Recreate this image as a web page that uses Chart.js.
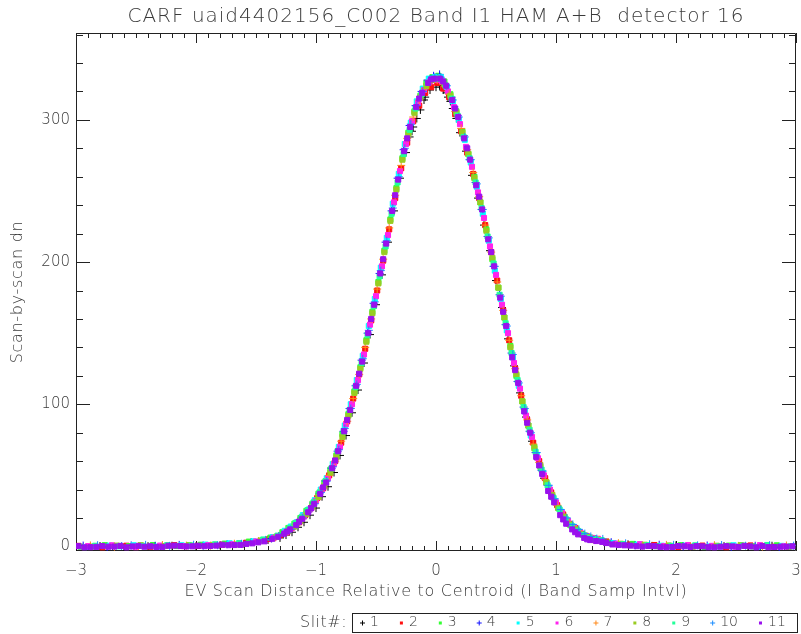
<!DOCTYPE html>
<html>
<head>
<meta charset="utf-8">
<title>CARF detector 16</title>
<script src="https://cdn.jsdelivr.net/npm/chart.js@4/dist/chart.umd.min.js"></script>
<style>
  html, body { margin: 0; padding: 0; background: #fff; }
  canvas { display: block; }
</style>
</head>
<body>
<canvas id="grafica" width="801" height="634"></canvas>
<script>
const titulo = 'CARF uaid4402156_C002 Band I1 HAM A+B  detector 16';
const tituloX = 'EV Scan Distance Relative to Centroid (I Band Samp Intvl)';
const tituloY = 'Scan-by-scan dn';
const xTicks = [-3, -2, -1, 0, 1, 2, 3];
const yTicks = [0, 100, 200, 300];
const slitLabels = ['1', '2', '3', '4', '5', '6', '7', '8', '9', '10', '11'];

// puntos [x, dn] de cada slit
const slit1 = [
  [-3.0,-0.5],[-2.8,0.3],[-2.6,-0.8],[-2.4,0.2],[-2.2,0.5],[-2.0,0.1],[-1.8,0.8],[-1.6,1.8],[-1.4,4.5],
  [-1.3,6],[-1.2,10],[-1.1,17],[-1.0,27],[-0.9,42],[-0.8,64],[-0.7,94],[-0.6,129],[-0.5,170],[-0.4,214],
  [-0.3,259],[-0.22,288],[-0.2,292],[-0.19,295],[-0.16,301],[-0.13,307],[-0.1,314],[-0.09,316],[-0.05,321],
  [0,323],[0.03,324],[0.06,321],[0.09,319],[0.1,316],[0.12,313],[0.14,308],[0.17,301],[0.2,291],[0.3,261],
  [0.4,226],[0.5,187],[0.6,146],[0.7,108],[0.8,74],[0.9,48],[1.0,30],[1.1,17],[1.2,10],[1.3,5.5],
  [-1.25,8],[-1.15,13.5],[-1.05,22],[-0.95,35],[-0.85,52],[-0.75,78],[-0.65,110],[-0.55,149],[-0.45,191],
  [-0.35,236],[-0.25,277],[0.25,278],[0.35,245],[0.45,208],[0.55,168],[0.65,127],[0.75,91],[0.85,61],
  [0.95,39],[1.05,23],[1.15,13],[1.25,7],
  [1.4,3.2],[1.6,1.5],[1.8,0.4],[2.0,0.8],[2.2,-0.6],[2.4,0.2],[2.6,-0.4],[2.8,0.5]
];
const slit2 = [
  [-2.98,0.4],[-2.78,-0.6],[-2.58,0.5],[-2.38,-0.2],[-2.18,0.9],[-1.98,0.4],[-1.78,1.3],[-1.58,2.6],[-1.39,5.2],
  [-1.29,8],[-1.19,14],[-1.09,22],[-0.99,34],[-0.89,50],[-0.79,73],[-0.69,104],[-0.59,139],[-0.49,180],[-0.39,223],
  [-0.29,266],[-0.19,299],[-0.09,319],[0.01,326],[0.11,316],[0.21,292],[0.31,262],[0.41,226],[0.51,187],[0.61,145],
  [0.71,106],[0.81,73],[0.91,48],[1.01,29],[1.11,16],[1.21,9],[1.31,5.2],
  [-1.24,10],[-1.14,17],[-1.04,27],[-0.94,41],[-0.84,60],[-0.74,88],[-0.64,121],[-0.54,159],[-0.44,201],
  [-0.34,245],[-0.24,284],[-0.14,310],[-0.04,323],[0.06,322],[0.16,304],[0.26,277],[0.36,245],[0.46,207],
  [0.56,166],[0.66,125],[0.76,89],[0.86,60],[0.96,38],[1.06,22.5],[1.16,13],[1.26,7],
  [1.42,3.5],[1.62,1.4],[1.82,1.0],[2.02,-0.3],[2.22,0.6],[2.42,-0.5],[2.62,0.7],[2.82,-0.2]
];
const slit3 = [
  [-2.96,-0.2],[-2.76,0.9],[-2.56,0.2],[-2.36,1.0],[-2.16,0.3],[-1.96,1.2],[-1.76,2.0],[-1.56,3.4],[-1.38,6.2],
  [-1.28,10],[-1.18,16],[-1.08,25],[-0.98,37],[-0.88,54],[-0.78,79],[-0.68,109],[-0.58,145],[-0.48,186],[-0.38,230],
  [-0.28,273],[-0.18,306],[-0.08,326],[0.02,331],[0.12,318],[0.22,292],[0.32,260],[0.42,223],[0.52,182],[0.62,141],
  [0.72,102],[0.82,70],[0.92,45],[1.02,27],[1.12,15],[1.22,8.5],[1.32,5.6],
  [-1.23,13],[-1.13,20],[-1.03,30],[-0.93,45],[-0.83,64],[-0.73,93],[-0.63,126],[-0.53,165],[-0.43,208],
  [-0.33,252],[-0.23,291],[-0.13,317],[-0.03,330],[0.07,327],[0.17,306],[0.27,276],[0.37,242],[0.47,202],
  [0.57,161],[0.67,120],[0.77,85],[0.87,56],[0.97,35],[1.07,20.5],[1.17,11.5],[1.27,6.5],
  [1.44,2.6],[1.64,1.8],[1.84,0.2],[2.04,0.9],[2.24,-0.4],[2.44,0.6],[2.64,0.0],[2.84,0.8]
];
const slit4 = [
  [-2.94,0.6],[-2.74,-0.3],[-2.54,0.7],[-2.34,0.5],[-2.14,1.1],[-1.94,0.6],[-1.74,1.6],[-1.54,3.1],[-1.37,5.6],
  [-1.27,9],[-1.17,15],[-1.07,24],[-0.97,37],[-0.87,55],[-0.77,81],[-0.67,113],[-0.57,150],[-0.47,192],[-0.37,236],
  [-0.27,279],[-0.17,310],[-0.07,328],[0.03,332],[0.13,316],[0.23,289],[0.33,256],[0.43,218],[0.53,177],[0.63,136],
  [0.73,98],[0.83,66],[0.93,43],[1.03,26],[1.13,14.5],[1.23,8],[1.33,4.8],
  [-1.22,12],[-1.12,20],[-1.02,30.5],[-0.92,46],[-0.82,67],[-0.72,97],[-0.62,131],[-0.52,171],[-0.42,214],
  [-0.32,259],[-0.22,296],[-0.12,320],[-0.02,331],[0.08,325],[0.18,303],[0.28,272],[0.38,237],[0.48,197],
  [0.58,156],[0.68,116],[0.78,81],[0.88,53.5],[0.98,33.5],[1.08,19.5],[1.18,11],[1.28,6],
  [1.46,3.0],[1.66,0.8],[1.86,1.2],[2.06,0.1],[2.26,0.7],[2.46,-0.3],[2.66,0.5],[2.86,-0.5]
];
const slit5 = [
  [-2.92,-0.4],[-2.72,0.5],[-2.52,0.8],[-2.32,-0.1],[-2.12,0.8],[-1.92,1.3],[-1.72,2.2],[-1.52,3.6],[-1.36,6.6],
  [-1.26,11],[-1.16,17],[-1.06,26],[-0.96,40],[-0.86,58],[-0.76,85],[-0.66,117],[-0.56,155],[-0.46,196],[-0.36,241],
  [-0.26,283],[-0.16,313],[-0.06,329],[0.04,330],[0.14,313],[0.24,286],[0.34,253],[0.44,215],[0.54,174],[0.64,133],
  [0.74,95],[0.84,64],[0.94,41],[1.04,24.5],[1.14,14],[1.24,7.5],[1.34,5.0],
  [-1.21,14],[-1.11,22],[-1.01,32.5],[-0.91,48],[-0.81,70],[-0.71,100],[-0.61,134],[-0.51,174],[-0.41,217],
  [-0.31,262],[-0.21,298],[-0.11,322],[-0.01,330],[0.09,323],[0.19,300],[0.29,270],[0.39,234],[0.49,194],
  [0.59,152],[0.69,113],[0.79,78],[0.89,51.5],[0.99,32],[1.09,18.5],[1.19,10.5],[1.29,6],
  [1.48,2.4],[1.68,1.3],[1.88,0.5],[2.08,0.6],[2.28,0.0],[2.48,0.8],[2.68,-0.3],[2.88,0.4]
];
const slit6 = [
  [-2.9,0.2],[-2.7,0.8],[-2.5,-0.5],[-2.3,0.6],[-2.1,0.2],[-1.9,0.9],[-1.7,1.5],[-1.5,3.5],[-1.35,6.2],
  [-1.25,10],[-1.15,17],[-1.05,26],[-0.95,40],[-0.85,58],[-0.75,86],[-0.65,117],[-0.55,156],[-0.45,197],[-0.35,242],
  [-0.25,283],[-0.15,312],[-0.05,327],[0.05,327],[0.15,309],[0.25,281],[0.35,249],[0.45,211],[0.55,170],[0.65,129],
  [0.75,92],[0.85,62],[0.95,40],[1.05,23.5],[1.15,13.5],[1.25,7.5],[1.35,5.4],
  [-1.2,13],[-1.1,21],[-1.0,32],[-0.9,48],[-0.8,70],[-0.7,100],[-0.6,135],[-0.5,176],[-0.4,219],
  [-0.3,264],[-0.2,299],[-0.1,321],[0.0,328],[0.1,320],[0.2,297],[0.3,267],[0.4,231],[0.5,191],
  [0.6,150],[0.7,111],[0.8,77],[0.9,50],[1.0,31],[1.1,18],[1.2,10],[1.3,6],
  [1.5,2.0],[1.7,1.6],[1.9,0.3],[2.1,1.0],[2.3,0.4],[2.5,-0.2],[2.7,0.9],[2.9,0.1]
];
const slit7 = [
  [-2.88,0.7],[-2.68,-0.2],[-2.48,0.3],[-2.28,1.0],[-2.08,0.6],[-1.88,0.5],[-1.68,1.9],[-1.48,3.8],[-1.34,6.4],
  [-1.24,10.5],[-1.14,17],[-1.04,27],[-0.94,41],[-0.84,60],[-0.74,88],[-0.64,121],[-0.54,160],[-0.44,202],[-0.34,247],
  [-0.24,287],[-0.14,314],[-0.04,327],[0.06,325],[0.16,306],[0.26,279],[0.36,246],[0.46,207],[0.56,166],[0.66,125],
  [0.76,89],[0.86,59],[0.96,38],[1.06,22],[1.16,12.5],[1.26,7],[1.36,4.6],
  [-1.19,13.5],[-1.09,22],[-0.99,33],[-0.89,50],[-0.79,74],[-0.69,104],[-0.59,140],[-0.49,181],[-0.39,224],
  [-0.29,268],[-0.19,302],[-0.09,322],[0.01,328],[0.11,318],[0.21,294],[0.31,263],[0.41,226],[0.51,186],
  [0.61,145],[0.71,106],[0.81,72],[0.91,47],[1.01,29],[1.11,16.5],[1.21,9],[1.31,5],
  [1.52,2.3],[1.72,0.6],[1.92,1.1],[2.12,0.2],[2.32,0.9],[2.52,0.4],[2.72,-0.1],[2.92,0.7]
];
const slit8 = [
  [-2.86,-0.1],[-2.66,0.6],[-2.46,0.9],[-2.26,0.3],[-2.06,1.0],[-1.86,1.1],[-1.66,1.4],[-1.46,4.2],[-1.33,6.8],
  [-1.23,11],[-1.13,18],[-1.03,28],[-0.93,43],[-0.83,63],[-0.73,92],[-0.63,125],[-0.53,164],[-0.43,207],[-0.33,251],
  [-0.23,290],[-0.13,316],[-0.03,328],[0.07,325],[0.17,305],[0.27,276],[0.37,242],[0.47,203],[0.57,161],[0.67,121],
  [0.77,85],[0.87,57],[0.97,36],[1.07,21],[1.17,12],[1.27,6.5],[1.37,4.5],
  [-1.18,14],[-1.08,23],[-0.98,35],[-0.88,52],[-0.78,77],[-0.68,108],[-0.58,144],[-0.48,185],[-0.38,229],
  [-0.28,272],[-0.18,305],[-0.08,324],[0.02,329],[0.12,317],[0.22,291],[0.32,259],[0.42,222],[0.52,182],
  [0.62,140],[0.72,102],[0.82,69],[0.92,45],[1.02,27],[1.12,15.5],[1.22,8.5],[1.32,5],
  [1.54,1.9],[1.74,1.2],[1.94,0.7],[2.14,-0.2],[2.34,0.5],[2.54,0.9],[2.74,0.3],[2.94,-0.3]
];
const slit9 = [
  [-2.84,0.5],[-2.64,0.1],[-2.44,0.4],[-2.24,0.9],[-2.04,0.7],[-1.84,1.5],[-1.64,2.4],[-1.44,4.9],[-1.32,7.6],
  [-1.22,13],[-1.12,20.5],[-1.02,31],[-0.92,46],[-0.82,67],[-0.72,96],[-0.62,129],[-0.52,169],[-0.42,211],[-0.32,256],
  [-0.22,293],[-0.12,318],[-0.02,329],[0.08,324],[0.18,303],[0.28,273],[0.38,238],[0.48,199],[0.58,157],[0.68,117],
  [0.78,82],[0.88,54],[0.98,34],[1.08,19.5],[1.18,11],[1.28,6],[1.38,4.4],
  [-1.17,16.5],[-1.07,25.5],[-0.97,38],[-0.87,55],[-0.77,81],[-0.67,112],[-0.57,149],[-0.47,190],[-0.37,234],
  [-0.27,276],[-0.17,308],[-0.07,326],[0.03,329],[0.13,315],[0.23,288],[0.33,256],[0.43,218],[0.53,177],
  [0.63,136],[0.73,98],[0.83,66.5],[0.93,43],[1.03,26],[1.13,14.5],[1.23,8],[1.33,5],
  [1.56,1.6],[1.76,0.9],[1.96,0.4],[2.16,0.8],[2.36,0.1],[2.56,0.6],[2.76,1.0],[2.96,0.2]
];
const slit10 = [
  [-2.82,0.9],[-2.62,0.3],[-2.42,1.1],[-2.22,0.4],[-2.02,1.2],[-1.82,0.8],[-1.62,1.9],[-1.42,4.6],[-1.31,7.4],
  [-1.21,12],[-1.11,20],[-1.01,30],[-0.91,46],[-0.81,68],[-0.71,97],[-0.61,132],[-0.51,172],[-0.41,215],[-0.31,260],
  [-0.21,297],[-0.11,320],[-0.01,330],[0.09,324],[0.19,302],[0.29,272],[0.39,237],[0.49,197],[0.59,155],[0.69,115],
  [0.79,80],[0.89,53],[0.99,33.5],[1.09,20],[1.19,12],[1.29,7],[1.39,5.3],
  [-1.16,15.5],[-1.06,25],[-0.96,38],[-0.86,56],[-0.76,83],[-0.66,114],[-0.56,152],[-0.46,194],[-0.36,238],
  [-0.26,280],[-0.16,310],[-0.06,327],[0.04,330],[0.14,314],[0.24,288],[0.34,255],[0.44,217],[0.54,176],
  [0.64,135],[0.74,97],[0.84,66],[0.94,43],[1.04,26],[1.14,15.5],[1.24,9],[1.34,5.5],
  [1.58,2.2],[1.78,1.6],[1.98,1.1],[2.18,0.8],[2.38,1.0],[2.58,0.5],[2.78,0.9],[2.98,0.6]
];
const slit11 = [
  [-2.98,0.2],[-2.93,-0.6],[-2.88,-0.5],[-2.83,-0.3],[-2.78,0.3],[-2.73,-0.2],[-2.68,-0.1],[-2.63,0.4],
  [-2.58,-0.6],[-2.53,0.0],[-2.48,0.4],[-2.43,-0.2],[-2.38,0.1],[-2.33,-0.4],[-2.28,-0.3],[-2.23,0.5],
  [-2.18,0.6],[-2.13,0.3],[-2.08,0.0],[-2.03,0.1],[-1.98,0.5],[-1.93,0.2],[-1.88,0.3],[-1.83,0.6],
  [-1.78,1.2],[-1.73,0.9],[-1.68,1.0],[-1.63,1.1],[-1.58,1.8],[-1.53,2.2],[-1.48,2.9],[-1.43,3.6],
  [-1.365,5.4],[-1.315,6.8],
  [-1.265,9],[-1.215,12],[-1.165,15],[-1.115,19.5],[-1.065,24],[-1.015,30],[-0.965,37],[-0.915,45],
  [-0.865,55],[-0.815,67],[-0.765,81],[-0.715,96],[-0.665,113],[-0.615,130],[-0.565,150],[-0.515,170],
  [-0.465,192],[-0.415,213],[-0.365,236],[-0.315,258],[-0.265,278],[-0.215,295],[-0.165,309],[-0.115,319],
  [-0.065,326],[-0.015,329],[0.035,329],[0.085,324],[0.135,314],[0.185,302],[0.235,287],[0.285,272],
  [0.335,254],[0.385,237],[0.435,216],[0.485,197],[0.535,175],[0.585,155],[0.635,133],[0.685,115],
  [0.735,95],[0.785,80],[0.835,63],[0.885,51],[0.935,39],[0.985,31],[1.035,22],[1.085,16],
  [1.135,12],[1.185,8.5],[1.235,6],[1.285,4.5],[1.335,3.8],[1.385,3.2],
  [-1.24,10.5],[-1.14,17.5],[-1.04,27],[-0.94,41.5],[-0.84,60.5],[-0.74,89],[-0.64,121.5],[-0.54,160],
  [-0.44,202],[-0.34,247],[-0.24,287],[-0.14,315],[-0.04,328.5],[0.06,327],[0.16,308],[0.26,280],
  [0.36,246],[0.46,207],[0.56,165],[0.66,124],[0.76,87],[0.86,57],[0.96,35],[1.06,19],[1.16,10],[1.26,5],
  [1.42,2.4],[1.47,1.4],[1.52,1.0],[1.57,0.8],[1.62,0.6],[1.67,0.2],[1.72,-0.1],[1.77,0.3],
  [1.82,0.2],[1.87,-0.3],[1.92,-0.5],[1.97,-0.4],[2.02,0.3],[2.07,0.1],[2.12,-0.3],[2.17,0.2],
  [2.22,0.1],[2.27,-0.5],[2.32,-0.6],[2.37,-0.2],[2.42,0.2],[2.47,0.0],[2.52,-0.4],[2.57,0.4],
  [2.62,0.0],[2.67,-0.6],[2.72,0.3],[2.77,-0.5],[2.82,-0.4],[2.87,-0.2],[2.92,-0.1],[2.97,0.1]
];

const slits = [slit1, slit2, slit3, slit4, slit5, slit6, slit7, slit8, slit9, slit10, slit11];
const slitColors = ['#000000', '#ff1010', '#33ff33', '#1010ff', '#00ffff', '#ff22ee',
                    '#ff8a1a', '#99cc22', '#22ff99', '#1a8cff', '#9a10ee'];
const slitMarkers = ['cross', 'rect', 'rect', 'cross', 'rect', 'rect',
                     'cross', 'rect', 'rect', 'cross', 'rect'];

const FAMILIA = '"DejaVu Sans", sans-serif';
const TINTA = '#3a3a3a';

function texto(ctx, str, x, y, size, spacing) {
  ctx.font = '200 ' + size + 'px ' + FAMILIA;
  ctx.letterSpacing = spacing + 'px';
  ctx.fillText(str, x, y);
}

// marco con marcas hacia dentro en los cuatro lados
const marcoEjes = {
  id: 'marcoEjes',
  beforeDatasetsDraw(chart) {
    const { ctx, chartArea: a, scales: { x, y } } = chart;
    ctx.save();
    ctx.strokeStyle = '#222';
    ctx.lineWidth = 1;
    ctx.beginPath();
    ctx.rect(a.left + 0.5, a.top + 0.5, a.right - a.left - 1, a.bottom - a.top - 1);
    for (let i = -30; i <= 30; i++) {
      const px = Math.round(x.getPixelForValue(i / 10)) + 0.5;
      const len = i % 10 === 0 ? 10 : 5;
      ctx.moveTo(px, a.bottom);
      ctx.lineTo(px, a.bottom - len);
      ctx.moveTo(px, a.top);
      ctx.lineTo(px, a.top + len);
    }
    for (let v = 0; v <= 360; v += 20) {
      const py = Math.round(y.getPixelForValue(v)) + 0.5;
      const len = v % 100 === 0 ? 14 : 7;
      ctx.moveTo(a.left, py);
      ctx.lineTo(a.left + len, py);
      ctx.moveTo(a.right, py);
      ctx.lineTo(a.right - len, py);
    }
    ctx.stroke();
    ctx.restore();
  }
};

// titulo general y titulos de los ejes
const titulos = {
  id: 'titulos',
  afterDraw(chart) {
    const { ctx, chartArea: a } = chart;
    const cx = (a.left + a.right) / 2;
    ctx.save();
    ctx.fillStyle = TINTA;
    ctx.textAlign = 'center';
    ctx.textBaseline = 'middle';
    texto(ctx, titulo, cx, 17, 20, 1);
    texto(ctx, tituloX, cx, 592, 16, 0.7);
    ctx.translate(18, (a.top + a.bottom) / 2);
    ctx.rotate(-Math.PI / 2);
    texto(ctx, tituloY, 0, 0, 16, 0.7);
    ctx.restore();
  }
};

// caja de leyenda con los numeros de slit
const leyendaSlit = {
  id: 'leyendaSlit',
  afterDraw(chart) {
    const ctx = chart.ctx;
    const yc = 622.5;
    ctx.save();
    ctx.textBaseline = 'middle';
    ctx.textAlign = 'left';
    ctx.fillStyle = TINTA;
    texto(ctx, 'Slit#:', 300, yc, 16, 0.5);
    ctx.strokeStyle = '#222';
    ctx.lineWidth = 1;
    ctx.strokeRect(352.5, 613.5, 445, 19);
    ctx.font = '200 14px ' + FAMILIA;
    ctx.letterSpacing = '0px';
    let cx = 362;
    chart.data.datasets.forEach(ds => {
      ctx.fillStyle = ds.borderColor;
      ctx.strokeStyle = ds.borderColor;
      if (ds.pointStyle === 'cross') {
        ctx.beginPath();
        ctx.moveTo(cx - 2, yc + 0.5);
        ctx.lineTo(cx + 3, yc + 0.5);
        ctx.moveTo(cx + 0.5, yc - 2);
        ctx.lineTo(cx + 0.5, yc + 3);
        ctx.stroke();
      } else {
        ctx.fillRect(cx - 1, yc - 1, 3, 3);
      }
      ctx.fillStyle = TINTA;
      ctx.fillText(ds.label, cx + 8, yc);
      cx += 8 + ctx.measureText(ds.label).width + 22;
    });
    ctx.restore();
  }
};

const datasets = slits.map((pts, i) => ({
  label: slitLabels[i],
  data: pts.map(([x, y]) => ({ x, y })),
  pointStyle: slitMarkers[i],
  pointRadius: slitMarkers[i] === 'cross' ? 4 : 3.6,
  borderWidth: 1,
  borderColor: slitColors[i],
  backgroundColor: slitColors[i],
  showLine: false,
  order: slits.length - 1 - i
}));

const fmtNum = v => (v < 0 ? '\u2212' + Math.abs(v) : String(v));
const sinRelleno = s => { s.paddingLeft = 0; s.paddingRight = 0; s.paddingTop = 0; s.paddingBottom = 0; };

new Chart(document.getElementById('grafica'), {
  type: 'scatter',
  data: { datasets },
  options: {
    responsive: false,
    animation: false,
    devicePixelRatio: 1,
    events: [],
    layout: { padding: { left: 0, right: 4, top: 33, bottom: 29 } },
    plugins: {
      legend: { display: false },
      tooltip: { enabled: false },
      title: { display: false }
    },
    scales: {
      x: {
        type: 'linear',
        min: -3,
        max: 3,
        afterBuildTicks: s => { s.ticks = xTicks.map(v => ({ value: v })); },
        afterFit: s => { s.height = 54; sinRelleno(s); },
        grid: { display: false, drawTicks: false },
        border: { display: false },
        ticks: {
          autoSkip: false,
          maxRotation: 0,
          padding: 11,
          color: TINTA,
          font: { family: FAMILIA, size: 15, weight: '200' },
          callback: v => fmtNum(v)
        }
      },
      y: {
        type: 'linear',
        min: -3.2,
        max: 361.1,
        afterBuildTicks: s => { s.ticks = yTicks.map(v => ({ value: v })); },
        afterFit: s => { s.width = 76; sinRelleno(s); },
        grid: { display: false, drawTicks: false },
        border: { display: false },
        ticks: {
          autoSkip: false,
          padding: 6,
          color: TINTA,
          font: { family: FAMILIA, size: 15, weight: '200' },
          callback: v => fmtNum(v)
        }
      }
    }
  },
  plugins: [marcoEjes, titulos, leyendaSlit]
});
</script>
</body>
</html>
